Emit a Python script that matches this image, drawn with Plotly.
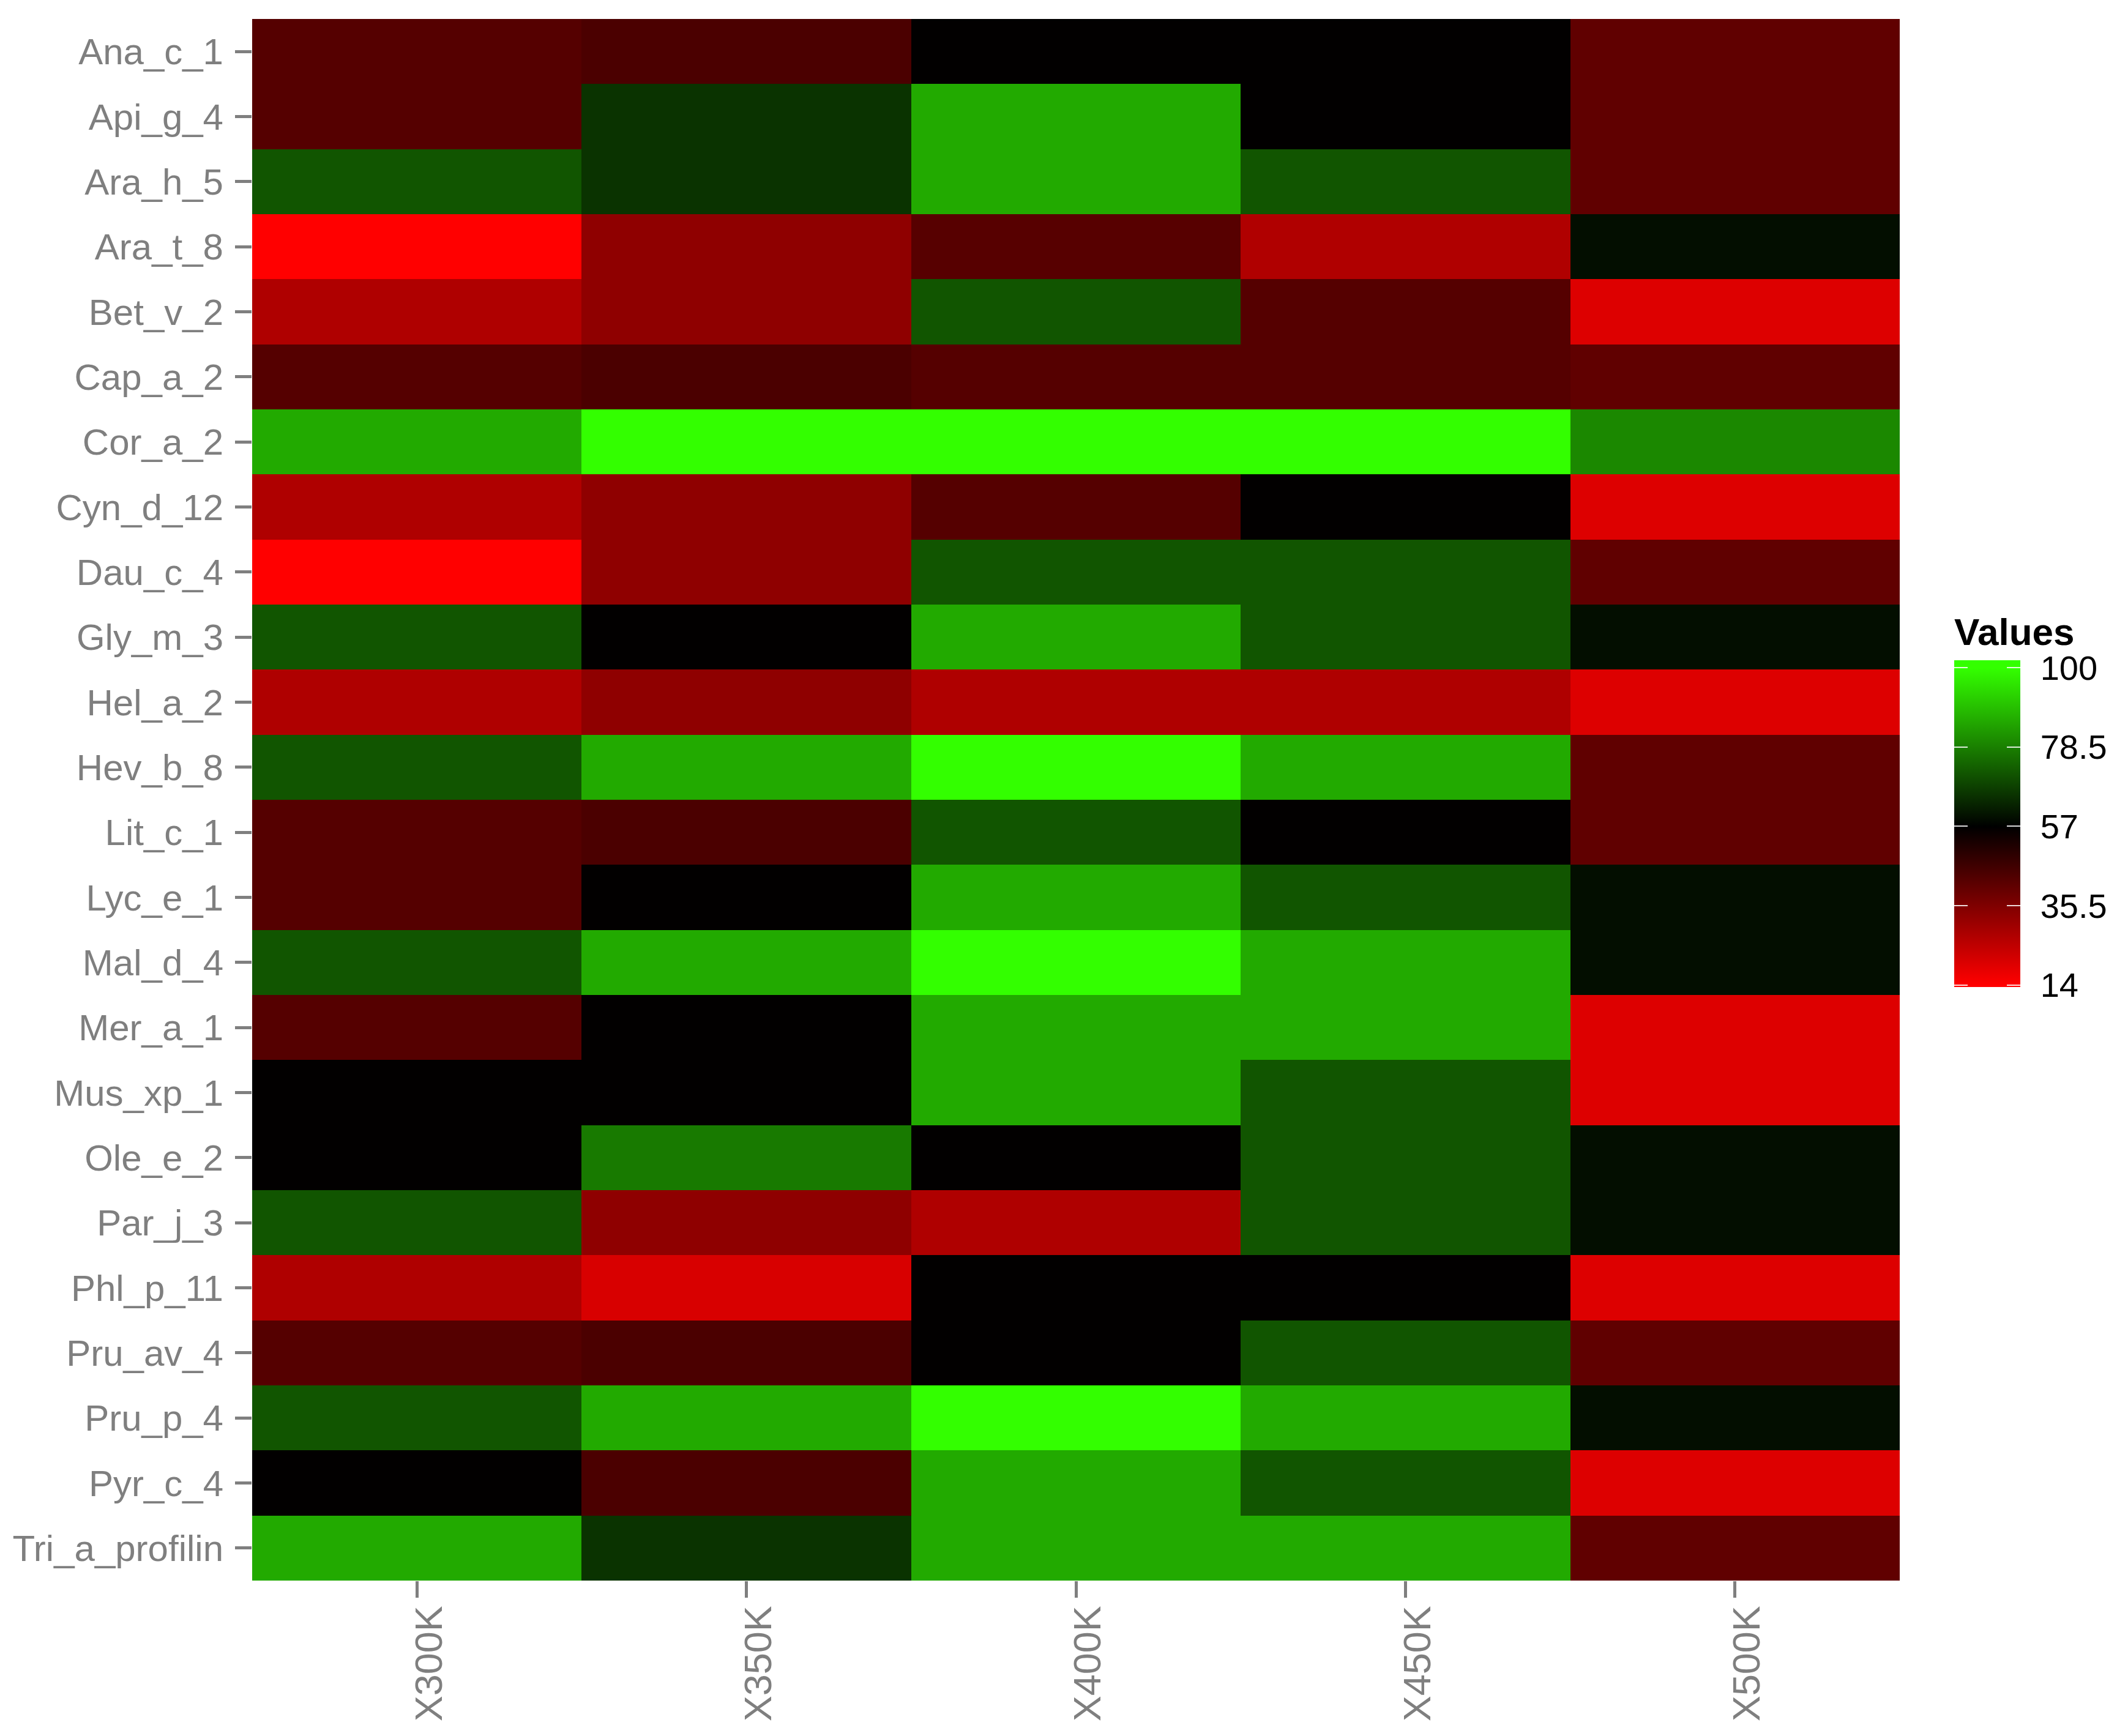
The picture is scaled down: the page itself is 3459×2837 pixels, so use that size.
import plotly.graph_objects as go

# ---- data -------------------------------------------------------------
columns = ["X300K", "X350K", "X400K", "X450K", "X500K"]
allergens = ["Ana_c_1", "Api_g_4", "Ara_h_5", "Ara_t_8", "Bet_v_2", "Cap_a_2",
             "Cor_a_2", "Cyn_d_12", "Dau_c_4", "Gly_m_3", "Hel_a_2", "Hev_b_8",
             "Lit_c_1", "Lyc_e_1", "Mal_d_4", "Mer_a_1", "Mus_xp_1", "Ole_e_2",
             "Par_j_3", "Phl_p_11", "Pru_av_4", "Pru_p_4", "Pyr_c_4", "Tri_a_profilin"]

X300K = [42.7, 42.7, 71.3, 14.0, 27.5, 42.7, 85.7, 27.5, 14.0, 71.3, 27.5, 71.3,
         42.7, 42.7, 71.3, 42.7, 56.6, 56.6, 71.3, 27.5, 42.7, 71.3, 56.6, 85.7]
X350K = [44.4, 65.6, 65.6, 32.9, 32.9, 44.4, 100.0, 32.9, 32.9, 56.6, 32.9, 85.7,
         44.4, 56.6, 85.7, 56.6, 56.6, 77.6, 32.9, 20.5, 44.4, 85.7, 44.4, 65.6]
X400K = [56.6, 85.7, 85.7, 42.3, 71.3, 42.7, 100.0, 42.7, 71.3, 85.7, 27.5, 100.0,
         71.3, 85.7, 100.0, 85.7, 85.7, 56.6, 27.5, 56.6, 56.6, 100.0, 85.7, 85.7]
X450K = [56.6, 56.6, 71.3, 27.3, 42.7, 42.7, 100.0, 56.6, 71.3, 71.3, 27.5, 85.7,
         56.6, 71.3, 85.7, 85.7, 71.3, 71.3, 71.3, 56.6, 71.3, 85.7, 71.3, 85.7]
X500K = [40.8, 40.8, 40.8, 59.4, 19.7, 40.8, 79.9, 19.7, 40.8, 59.4, 19.7, 40.8,
         40.8, 59.4, 59.4, 19.7, 19.7, 59.4, 59.4, 19.7, 40.8, 59.4, 19.7, 40.8]

legend_ticks = [14, 35.5, 57, 78.5, 100]
legend_labels = ["14", "35.5", "57", "78.5", "100"]

# ---- colour scale (red - black - green, midpoint 57) -------------------
v_low, v_mid, v_high = 14.0, 57.0, 100.0
z_lo, z_hi = 13.5, 102.1          # bar slightly extends beyond the data limits
def frac(v):
    return (v - z_lo) / (z_hi - z_lo)

colorscale = [[0.0, "#FF0000"], [frac(v_low), "#FF0000"], [frac(v_mid), "#000000"],
              [frac(v_high), "#33FF00"], [1.0, "#33FF00"]]

series = [X300K, X350K, X400K, X450K, X500K]
z = [[series[j][i] for j in range(len(columns))] for i in range(len(allergens))]

FONT = "Liberation Sans, Arial, Helvetica, sans-serif"
GREY = "#7F7F7F"

BAR_W = 108
TICK_L = 22

fig = go.Figure(go.Heatmap(
    x=columns, y=allergens, z=z,
    zmin=z_lo, zmax=z_hi, colorscale=colorscale,
    hoverongaps=False,
    colorbar=dict(
        title=dict(text="<b>Values</b>", side="top",
                   font=dict(family=FONT, size=62, color="black")),
        tickmode="array", tickvals=legend_ticks, ticktext=legend_labels,
        ticks="outside", ticklen=TICK_L, tickwidth=2, tickcolor="rgba(255,255,255,0.85)",
        tickfont=dict(family=FONT, size=56, color="black"),
        thicknessmode="pixels", thickness=BAR_W,
        lenmode="pixels", len=608,
        x=1.0331, xanchor="left", xpad=0,
        y=0.4994, yanchor="middle", ypad=0,
        outlinewidth=0,
    ),
))

fig.update_layout(
    width=3459, height=2837,
    margin=dict(l=412, r=355, t=31, b=254, autoexpand=False),
    paper_bgcolor="white", plot_bgcolor="white",
    font=dict(family=FONT, color=GREY, size=60),
)
fig.update_xaxes(
    type="category", categoryorder="array", categoryarray=columns,
    showgrid=False, zeroline=False, showline=False,
    ticks="outside", ticklen=27, tickwidth=5, tickcolor=GREY,
    tickangle=-90, tickfont=dict(family=FONT, size=63, color=GREY),
    ticklabelstandoff=-12, ticklabelshift=20,
)
fig.update_yaxes(
    type="category", categoryorder="array", categoryarray=allergens,
    autorange="reversed",
    showgrid=False, zeroline=False, showline=False,
    ticks="outside", ticklen=27, tickwidth=5, tickcolor=GREY,
    tickfont=dict(family=FONT, size=60, color=GREY),
    ticklabelstandoff=7,
)

# white tick marks drawn inside the colour bar on both edges (ggplot style)
post = """
document.body.style.margin='0';
var gd=document.getElementById('{plot_id}');
var bar=gd.querySelector('.colorbar');
if(bar){
  var paths=bar.querySelectorAll('path');
  paths.forEach(function(p){
    var cls=p.getAttribute('class')||'';
    if(cls.indexOf('tick')<0) return;
    var t=p.getAttribute('transform')||'';
    [-%d, -%d].forEach(function(dx){
      var c=p.cloneNode(true);
      c.setAttribute('transform', t+' translate('+dx+',0)');
      p.parentNode.appendChild(c);
    });
  });
}
""" % (TICK_L, BAR_W)

fig.write_html("out.html", post_script=post, config={"displayModeBar": False})
